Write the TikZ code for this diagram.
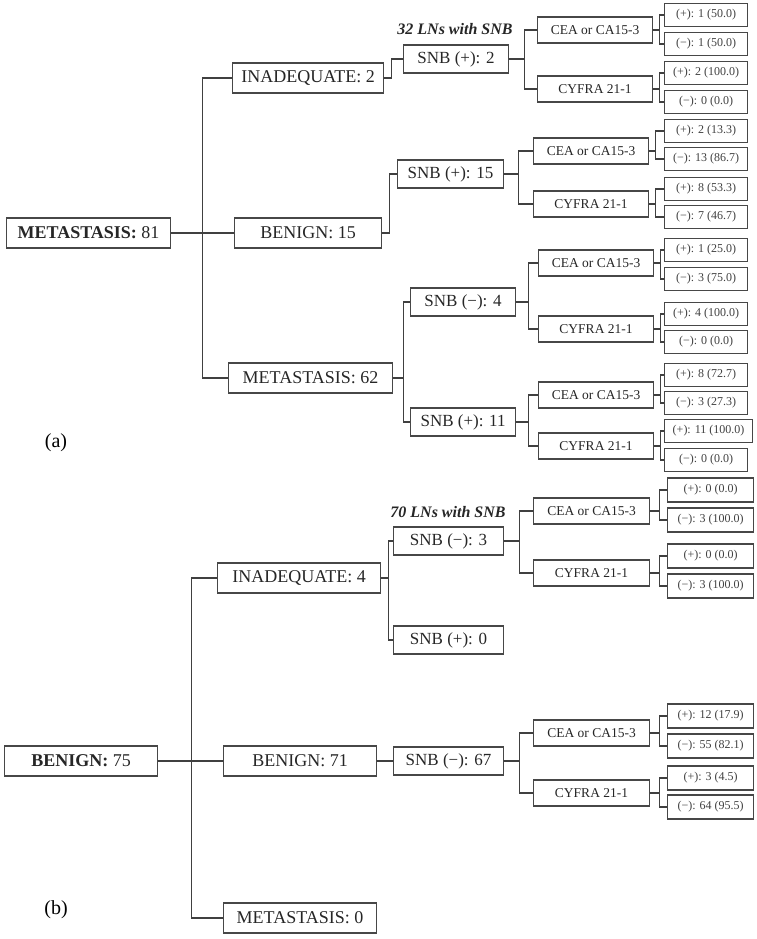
\documentclass[tikz,border=0pt]{standalone}
\usepackage{fontspec}
\setmainfont{Liberation Serif}

\tikzset{
  box/.style={draw=black!72, line width=1.1pt, inner sep=0pt, text=black!85, anchor=west},
  lvl/.style={box, minimum height=30pt, font=\fontsize{18}{20}\selectfont},
  snb/.style={box, minimum width=106pt, minimum height=28pt, font=\fontsize{17}{19}\selectfont},
  mkr/.style={box, minimum width=115pt, minimum height=26pt, font=\fontsize{13.5}{15}\selectfont},
  leaf/.style={box, minimum width=83pt, minimum height=23pt, text=black!75, font=\fontsize{12}{14}\selectfont},
  link/.style={draw=black!75, line width=1.1pt},
  note/.style={text=black!85, font=\fontsize{16}{18}\selectfont\bfseries\itshape},
}

\begin{document}
\begin{tikzpicture}[x=1pt, y=-1pt]
\useasboundingbox (0,0) rectangle (757,939);

%% (a) primer arbol %%%%%%%%%%%%%%%%%%%%%%%%%%%%%%%%%%
\node[lvl, minimum width=164pt] (rootA) at (6,233) {\textbf{METASTASIS:} 81};
\node[lvl, minimum width=151pt] (inadA) at (232,78) {INADEQUATE: 2};
\node[lvl, minimum width=147pt] (benA) at (234,233) {BENIGN: 15};
\node[lvl, minimum width=164pt] (metA) at (228,378) {METASTASIS: 62};
\foreach \ch in {inadA,benA,metA}
  \draw[link] (rootA.east) -- +(31,0) |- (\ch.west);

\node[snb, minimum width=105pt] (snbA1) at (403,59) {SNB (+): 2};
\node[snb] (snbA2) at (397,174) {SNB (+): 15};
\node[snb, minimum width=105pt] (snbA3) at (410,302) {SNB (−): 4};
\node[snb, minimum width=105pt] (snbA4) at (410,422) {SNB (+): 11};
\draw[link] (inadA.east) -- +(7,0) |- (snbA1.west);
\draw[link] (benA.east) -- +(7,0) |- (snbA2.west);
\draw[link] (metA.east) -- +(10,0) |- (snbA3.west);
\draw[link] (metA.east) -- +(10,0) |- (snbA4.west);
\node[note] (noteA) at (455,29) {32 LNs with SNB};

\node[mkr] (ceaA1) at (537,30) {CEA or CA15-3};
\node[mkr] (cyfA1) at (537,89) {CYFRA 21-1};
\node[mkr] (ceaA2) at (533,151) {CEA or CA15-3};
\node[mkr] (cyfA2) at (533,204) {CYFRA 21-1};
\node[mkr] (ceaA3) at (538,263) {CEA or CA15-3};
\node[mkr] (cyfA3) at (538,329) {CYFRA 21-1};
\node[mkr] (ceaA4) at (538,395) {CEA or CA15-3};
\node[mkr] (cyfA4) at (538,446) {CYFRA 21-1};
\foreach \pa/\ch/\dx in {snbA1/ceaA1/15, snbA1/cyfA1/15, snbA2/ceaA2/14, snbA2/cyfA2/14,
                         snbA3/ceaA3/12, snbA3/cyfA3/12, snbA4/ceaA4/12, snbA4/cyfA4/12}
  \draw[link] (\pa.east) -- +(\dx,0) |- (\ch.west);

%% hojas (a)
\foreach \nm/\pa/\yy/\tx in {
  lA1/ceaA1/15/{(+): 1 (50.0)},   lA2/ceaA1/44/{(−): 1 (50.0)},
  lA3/cyfA1/73/{(+): 2 (100.0)},  lA4/cyfA1/102/{(−): 0 (0.0)},
  lA5/ceaA2/131/{(+): 2 (13.3)},  lA6/ceaA2/159/{(−): 13 (86.7)},
  lA7/cyfA2/189/{(+): 8 (53.3)},  lA8/cyfA2/217/{(−): 7 (46.7)},
  lA9/ceaA3/250/{(+): 1 (25.0)},  lA10/ceaA3/279/{(−): 3 (75.0)},
  lA11/cyfA3/314/{(+): 4 (100.0)},lA12/cyfA3/342/{(−): 0 (0.0)},
  lA13/ceaA4/375/{(+): 8 (72.7)}, lA14/ceaA4/403/{(−): 3 (27.3)},
  lA16/cyfA4/460/{(−): 0 (0.0)}}{
  \node[leaf] (\nm) at (664,\yy) {\tx};
  \draw[link] (\pa.east) -- +(6,0) |- (\nm.west);
}
\node[leaf, minimum width=88pt] (lA15) at (664,431) {(+): 11 (100.0)};
\draw[link] (cyfA4.east) -- +(6,0) |- (lA15.west);

\node[font=\fontsize{20}{22}\selectfont] (labA) at (56,443) {(a)};

%% (b) segundo arbol %%%%%%%%%%%%%%%%%%%%%%%%%%%%%%%%%
\node[lvl, minimum width=153pt] (rootB) at (4,761) {\textbf{BENIGN:} 75};
\node[lvl, minimum width=163pt] (inadB) at (217,578) {INADEQUATE: 4};
\node[lvl, minimum width=153pt] (benB) at (223,761) {BENIGN: 71};
\node[lvl, minimum width=153pt] (metB) at (223,918) {METASTASIS: 0};
\foreach \ch in {inadB,benB,metB}
  \draw[link] (rootB.east) -- +(33,0) |- (\ch.west);

\node[snb, minimum width=110pt] (snbB1) at (393,541) {SNB (−): 3};
\node[snb, minimum width=110pt] (snbB2) at (393,640) {SNB (+): 0};
\node[snb, minimum width=110pt] (snbB3) at (393,761) {SNB (−): 67};
\draw[link] (inadB.east) -- +(7,0) |- (snbB1.west);
\draw[link] (inadB.east) -- +(7,0) |- (snbB2.west);
\draw[link] (benB.east) -- (snbB3.west);
\node[note] (noteB) at (448,512) {70 LNs with SNB};

\node[mkr, minimum width=116pt] (ceaB1) at (533,511) {CEA or CA15-3};
\node[mkr, minimum width=116pt] (cyfB1) at (533,573) {CYFRA 21-1};
\node[mkr, minimum width=116pt] (ceaB2) at (533,733) {CEA or CA15-3};
\node[mkr, minimum width=116pt] (cyfB2) at (533,793) {CYFRA 21-1};
\foreach \pa/\ch in {snbB1/ceaB1, snbB1/cyfB1, snbB3/ceaB2, snbB3/cyfB2}
  \draw[link] (\pa.east) -- +(15,0) |- (\ch.west);

%% hojas (b)
\foreach \nm/\pa/\yy/\tx in {
  lB1/ceaB1/490/{(+): 0 (0.0)},   lB2/ceaB1/520/{(−): 3 (100.0)},
  lB3/cyfB1/556/{(+): 0 (0.0)},   lB4/cyfB1/586/{(−): 3 (100.0)},
  lB5/ceaB2/716/{(+): 12 (17.9)}, lB6/ceaB2/746/{(−): 55 (82.1)},
  lB7/cyfB2/778/{(+): 3 (4.5)},   lB8/cyfB2/807/{(−): 64 (95.5)}}{
  \node[leaf, minimum width=86pt, minimum height=24pt] (\nm) at (667,\yy) {\tx};
  \draw[link] (\pa.east) -- +(9,0) |- (\nm.west);
}

\node[font=\fontsize{20}{22}\selectfont] (labB) at (56,910) {(b)};
\end{tikzpicture}
\end{document}
